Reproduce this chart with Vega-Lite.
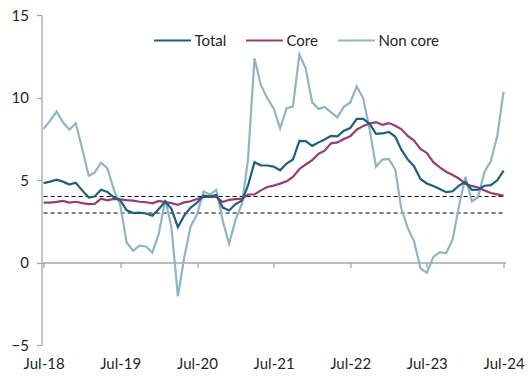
{
  "$schema": "https://vega.github.io/schema/vega-lite/v6.json",
  "width": 464,
  "height": 330,
  "autosize": "none",
  "padding": {"left": 41.5, "top": 15, "right": 25.5, "bottom": 33},
  "config": {
    "view": {"stroke": null},
    "font": "Lato",
    "axis": {
      "title": null,
      "grid": false,
      "labelFont": "Lato",
      "labelFontSize": 15,
      "labelColor": "#262626",
      "domainColor": "#a6a6a6",
      "tickColor": "#a6a6a6",
      "domainWidth": 1.3,
      "tickWidth": 1.3,
      "tickSize": 5
    }
  },
  "datasets": {
    "bands": [
      {"d": "2018-07-01", "d2": "2024-07-01", "v": 3},
      {"d": "2018-07-01", "d2": "2024-07-01", "v": 4}
    ],
    "cpi": [
      {"d":"2018-07-01","s":"Non core","v":8.1},{"d":"2018-08-01","s":"Non core","v":8.6},{"d":"2018-09-01","s":"Non core","v":9.15},{"d":"2018-10-01","s":"Non core","v":8.5},{"d":"2018-11-01","s":"Non core","v":8.05},{"d":"2018-12-01","s":"Non core","v":8.45},
      {"d":"2019-01-01","s":"Non core","v":6.9},{"d":"2019-02-01","s":"Non core","v":5.25},{"d":"2019-03-01","s":"Non core","v":5.45},{"d":"2019-04-01","s":"Non core","v":6.05},{"d":"2019-05-01","s":"Non core","v":5.7},{"d":"2019-06-01","s":"Non core","v":4.4},{"d":"2019-07-01","s":"Non core","v":3.5},{"d":"2019-08-01","s":"Non core","v":1.2},{"d":"2019-09-01","s":"Non core","v":0.72},{"d":"2019-10-01","s":"Non core","v":1.02},{"d":"2019-11-01","s":"Non core","v":0.97},{"d":"2019-12-01","s":"Non core","v":0.6},
      {"d":"2020-01-01","s":"Non core","v":1.75},{"d":"2020-02-01","s":"Non core","v":3.8},{"d":"2020-03-01","s":"Non core","v":2.15},{"d":"2020-04-01","s":"Non core","v":-2.05},{"d":"2020-05-01","s":"Non core","v":0.3},{"d":"2020-06-01","s":"Non core","v":2.2},{"d":"2020-07-01","s":"Non core","v":2.9},{"d":"2020-08-01","s":"Non core","v":4.3},{"d":"2020-09-01","s":"Non core","v":4.12},{"d":"2020-10-01","s":"Non core","v":4.4},{"d":"2020-11-01","s":"Non core","v":2.5},{"d":"2020-12-01","s":"Non core","v":1.15},
      {"d":"2021-01-01","s":"Non core","v":2.6},{"d":"2021-02-01","s":"Non core","v":3.6},{"d":"2021-03-01","s":"Non core","v":6.25},{"d":"2021-04-01","s":"Non core","v":12.37},{"d":"2021-05-01","s":"Non core","v":10.76},{"d":"2021-06-01","s":"Non core","v":9.95},{"d":"2021-07-01","s":"Non core","v":9.34},{"d":"2021-08-01","s":"Non core","v":8.13},{"d":"2021-09-01","s":"Non core","v":9.36},{"d":"2021-10-01","s":"Non core","v":9.45},{"d":"2021-11-01","s":"Non core","v":12.6},{"d":"2021-12-01","s":"Non core","v":11.75},
      {"d":"2022-01-01","s":"Non core","v":9.7},{"d":"2022-02-01","s":"Non core","v":9.31},{"d":"2022-03-01","s":"Non core","v":9.42},{"d":"2022-04-01","s":"Non core","v":9.1},{"d":"2022-05-01","s":"Non core","v":8.8},{"d":"2022-06-01","s":"Non core","v":9.45},{"d":"2022-07-01","s":"Non core","v":9.68},{"d":"2022-08-01","s":"Non core","v":10.67},{"d":"2022-09-01","s":"Non core","v":9.95},{"d":"2022-10-01","s":"Non core","v":8.1},{"d":"2022-11-01","s":"Non core","v":5.8},{"d":"2022-12-01","s":"Non core","v":6.24},
      {"d":"2023-01-01","s":"Non core","v":6.28},{"d":"2023-02-01","s":"Non core","v":5.62},{"d":"2023-03-01","s":"Non core","v":3.3},{"d":"2023-04-01","s":"Non core","v":2.1},{"d":"2023-05-01","s":"Non core","v":1.3},{"d":"2023-06-01","s":"Non core","v":-0.35},{"d":"2023-07-01","s":"Non core","v":-0.62},{"d":"2023-08-01","s":"Non core","v":0.34},{"d":"2023-09-01","s":"Non core","v":0.62},{"d":"2023-10-01","s":"Non core","v":0.56},{"d":"2023-11-01","s":"Non core","v":1.38},{"d":"2023-12-01","s":"Non core","v":3.4},
      {"d":"2024-01-01","s":"Non core","v":5.2},{"d":"2024-02-01","s":"Non core","v":3.7},{"d":"2024-03-01","s":"Non core","v":3.97},{"d":"2024-04-01","s":"Non core","v":5.5},{"d":"2024-05-01","s":"Non core","v":6.13},{"d":"2024-06-01","s":"Non core","v":7.7},{"d":"2024-07-01","s":"Non core","v":10.36},

      {"d":"2018-07-01","s":"Core","v":3.63},{"d":"2018-08-01","s":"Core","v":3.63},{"d":"2018-09-01","s":"Core","v":3.67},{"d":"2018-10-01","s":"Core","v":3.73},{"d":"2018-11-01","s":"Core","v":3.63},{"d":"2018-12-01","s":"Core","v":3.68},
      {"d":"2019-01-01","s":"Core","v":3.6},{"d":"2019-02-01","s":"Core","v":3.54},{"d":"2019-03-01","s":"Core","v":3.55},{"d":"2019-04-01","s":"Core","v":3.87},{"d":"2019-05-01","s":"Core","v":3.77},{"d":"2019-06-01","s":"Core","v":3.85},{"d":"2019-07-01","s":"Core","v":3.82},{"d":"2019-08-01","s":"Core","v":3.78},{"d":"2019-09-01","s":"Core","v":3.75},{"d":"2019-10-01","s":"Core","v":3.68},{"d":"2019-11-01","s":"Core","v":3.65},{"d":"2019-12-01","s":"Core","v":3.59},
      {"d":"2020-01-01","s":"Core","v":3.73},{"d":"2020-02-01","s":"Core","v":3.66},{"d":"2020-03-01","s":"Core","v":3.6},{"d":"2020-04-01","s":"Core","v":3.5},{"d":"2020-05-01","s":"Core","v":3.64},{"d":"2020-06-01","s":"Core","v":3.71},{"d":"2020-07-01","s":"Core","v":3.85},{"d":"2020-08-01","s":"Core","v":3.97},{"d":"2020-09-01","s":"Core","v":3.99},{"d":"2020-10-01","s":"Core","v":3.98},{"d":"2020-11-01","s":"Core","v":3.66},{"d":"2020-12-01","s":"Core","v":3.8},
      {"d":"2021-01-01","s":"Core","v":3.84},{"d":"2021-02-01","s":"Core","v":3.87},{"d":"2021-03-01","s":"Core","v":4.12},{"d":"2021-04-01","s":"Core","v":4.13},{"d":"2021-05-01","s":"Core","v":4.37},{"d":"2021-06-01","s":"Core","v":4.58},{"d":"2021-07-01","s":"Core","v":4.66},{"d":"2021-08-01","s":"Core","v":4.78},{"d":"2021-09-01","s":"Core","v":4.92},{"d":"2021-10-01","s":"Core","v":5.19},{"d":"2021-11-01","s":"Core","v":5.67},{"d":"2021-12-01","s":"Core","v":5.94},
      {"d":"2022-01-01","s":"Core","v":6.21},{"d":"2022-02-01","s":"Core","v":6.59},{"d":"2022-03-01","s":"Core","v":6.78},{"d":"2022-04-01","s":"Core","v":7.22},{"d":"2022-05-01","s":"Core","v":7.28},{"d":"2022-06-01","s":"Core","v":7.49},{"d":"2022-07-01","s":"Core","v":7.65},{"d":"2022-08-01","s":"Core","v":8.05},{"d":"2022-09-01","s":"Core","v":8.28},{"d":"2022-10-01","s":"Core","v":8.42},{"d":"2022-11-01","s":"Core","v":8.51},{"d":"2022-12-01","s":"Core","v":8.35},
      {"d":"2023-01-01","s":"Core","v":8.45},{"d":"2023-02-01","s":"Core","v":8.29},{"d":"2023-03-01","s":"Core","v":8.09},{"d":"2023-04-01","s":"Core","v":7.67},{"d":"2023-05-01","s":"Core","v":7.39},{"d":"2023-06-01","s":"Core","v":6.89},{"d":"2023-07-01","s":"Core","v":6.64},{"d":"2023-08-01","s":"Core","v":6.08},{"d":"2023-09-01","s":"Core","v":5.76},{"d":"2023-10-01","s":"Core","v":5.5},{"d":"2023-11-01","s":"Core","v":5.3},{"d":"2023-12-01","s":"Core","v":5.09},
      {"d":"2024-01-01","s":"Core","v":4.76},{"d":"2024-02-01","s":"Core","v":4.64},{"d":"2024-03-01","s":"Core","v":4.55},{"d":"2024-04-01","s":"Core","v":4.37},{"d":"2024-05-01","s":"Core","v":4.21},{"d":"2024-06-01","s":"Core","v":4.13},{"d":"2024-07-01","s":"Core","v":4.05},

      {"d":"2018-07-01","s":"Total","v":4.81},{"d":"2018-08-01","s":"Total","v":4.9},{"d":"2018-09-01","s":"Total","v":5.02},{"d":"2018-10-01","s":"Total","v":4.9},{"d":"2018-11-01","s":"Total","v":4.72},{"d":"2018-12-01","s":"Total","v":4.83},
      {"d":"2019-01-01","s":"Total","v":4.37},{"d":"2019-02-01","s":"Total","v":3.94},{"d":"2019-03-01","s":"Total","v":4.0},{"d":"2019-04-01","s":"Total","v":4.41},{"d":"2019-05-01","s":"Total","v":4.28},{"d":"2019-06-01","s":"Total","v":3.95},{"d":"2019-07-01","s":"Total","v":3.78},{"d":"2019-08-01","s":"Total","v":3.16},{"d":"2019-09-01","s":"Total","v":3.0},{"d":"2019-10-01","s":"Total","v":3.02},{"d":"2019-11-01","s":"Total","v":2.97},{"d":"2019-12-01","s":"Total","v":2.83},
      {"d":"2020-01-01","s":"Total","v":3.24},{"d":"2020-02-01","s":"Total","v":3.7},{"d":"2020-03-01","s":"Total","v":3.25},{"d":"2020-04-01","s":"Total","v":2.15},{"d":"2020-05-01","s":"Total","v":2.84},{"d":"2020-06-01","s":"Total","v":3.33},{"d":"2020-07-01","s":"Total","v":3.62},{"d":"2020-08-01","s":"Total","v":4.05},{"d":"2020-09-01","s":"Total","v":4.01},{"d":"2020-10-01","s":"Total","v":4.09},{"d":"2020-11-01","s":"Total","v":3.33},{"d":"2020-12-01","s":"Total","v":3.15},
      {"d":"2021-01-01","s":"Total","v":3.54},{"d":"2021-02-01","s":"Total","v":3.76},{"d":"2021-03-01","s":"Total","v":4.67},{"d":"2021-04-01","s":"Total","v":6.08},{"d":"2021-05-01","s":"Total","v":5.89},{"d":"2021-06-01","s":"Total","v":5.88},{"d":"2021-07-01","s":"Total","v":5.81},{"d":"2021-08-01","s":"Total","v":5.59},{"d":"2021-09-01","s":"Total","v":6.0},{"d":"2021-10-01","s":"Total","v":6.24},{"d":"2021-11-01","s":"Total","v":7.37},{"d":"2021-12-01","s":"Total","v":7.36},
      {"d":"2022-01-01","s":"Total","v":7.07},{"d":"2022-02-01","s":"Total","v":7.28},{"d":"2022-03-01","s":"Total","v":7.45},{"d":"2022-04-01","s":"Total","v":7.68},{"d":"2022-05-01","s":"Total","v":7.65},{"d":"2022-06-01","s":"Total","v":7.99},{"d":"2022-07-01","s":"Total","v":8.15},{"d":"2022-08-01","s":"Total","v":8.7},{"d":"2022-09-01","s":"Total","v":8.7},{"d":"2022-10-01","s":"Total","v":8.41},{"d":"2022-11-01","s":"Total","v":7.8},{"d":"2022-12-01","s":"Total","v":7.82},
      {"d":"2023-01-01","s":"Total","v":7.91},{"d":"2023-02-01","s":"Total","v":7.62},{"d":"2023-03-01","s":"Total","v":6.85},{"d":"2023-04-01","s":"Total","v":6.25},{"d":"2023-05-01","s":"Total","v":5.84},{"d":"2023-06-01","s":"Total","v":5.06},{"d":"2023-07-01","s":"Total","v":4.79},{"d":"2023-08-01","s":"Total","v":4.64},{"d":"2023-09-01","s":"Total","v":4.45},{"d":"2023-10-01","s":"Total","v":4.26},{"d":"2023-11-01","s":"Total","v":4.32},{"d":"2023-12-01","s":"Total","v":4.66},
      {"d":"2024-01-01","s":"Total","v":4.88},{"d":"2024-02-01","s":"Total","v":4.4},{"d":"2024-03-01","s":"Total","v":4.42},{"d":"2024-04-01","s":"Total","v":4.65},{"d":"2024-05-01","s":"Total","v":4.69},{"d":"2024-06-01","s":"Total","v":4.98},{"d":"2024-07-01","s":"Total","v":5.57}
    ]
  },
  "encoding": {
    "x": {
      "field": "d",
      "type": "temporal",
      "scale": {
        "type": "utc",
        "domain": [
          {"year": 2018, "month": 6, "date": 21, "utc": true},
          {"year": 2024, "month": 7, "date": 10, "utc": true}
        ]
      },
      "axis": {
        "orient": "bottom",
        "offset": -82.5,
        "labelPadding": 89,
        "format": "%b-%y",
        "labelFlush": false,
        "labelOverlap": false,
        "labelAngle": 0,
        "values": [
          {"year": 2018, "month": 7, "date": 1, "utc": true},
          {"year": 2019, "month": 7, "date": 1, "utc": true},
          {"year": 2020, "month": 7, "date": 1, "utc": true},
          {"year": 2021, "month": 7, "date": 1, "utc": true},
          {"year": 2022, "month": 7, "date": 1, "utc": true},
          {"year": 2023, "month": 7, "date": 1, "utc": true},
          {"year": 2024, "month": 7, "date": 1, "utc": true}
        ]
      }
    },
    "y": {
      "field": "v",
      "type": "quantitative",
      "scale": {"domain": [-5, 15], "nice": false, "zero": false},
      "axis": {"values": [-5, 0, 5, 10, 15], "labelPadding": 8}
    }
  },
  "layer": [
    {
      "data": {"name": "bands"},
      "mark": {"type": "rule", "color": "#000000", "strokeWidth": 1.2, "strokeDash": [4, 3]},
      "encoding": {
        "x2": {"field": "d2"}
      }
    },
    {
      "data": {"name": "cpi"},
      "mark": {"type": "line", "strokeWidth": 2.2},
      "encoding": {
        "color": {
          "field": "s",
          "type": "nominal",
          "scale": {
            "domain": ["Total", "Core", "Non core"],
            "range": ["#1c5f7f", "#9a3d6b", "#8fb5c7"]
          },
          "legend": {
            "title": null,
            "orient": "none",
            "direction": "horizontal",
            "legendX": 111,
            "legendY": 5.5,
            "padding": 0,
            "symbolType": "stroke",
            "symbolSize": 1369,
            "symbolStrokeWidth": 2.2,
            "labelFont": "Lato",
            "labelFontSize": 15,
            "labelColor": "#262626",
            "labelOffset": 2,
            "columnPadding": 15
          }
        }
      }
    }
  ]
}
